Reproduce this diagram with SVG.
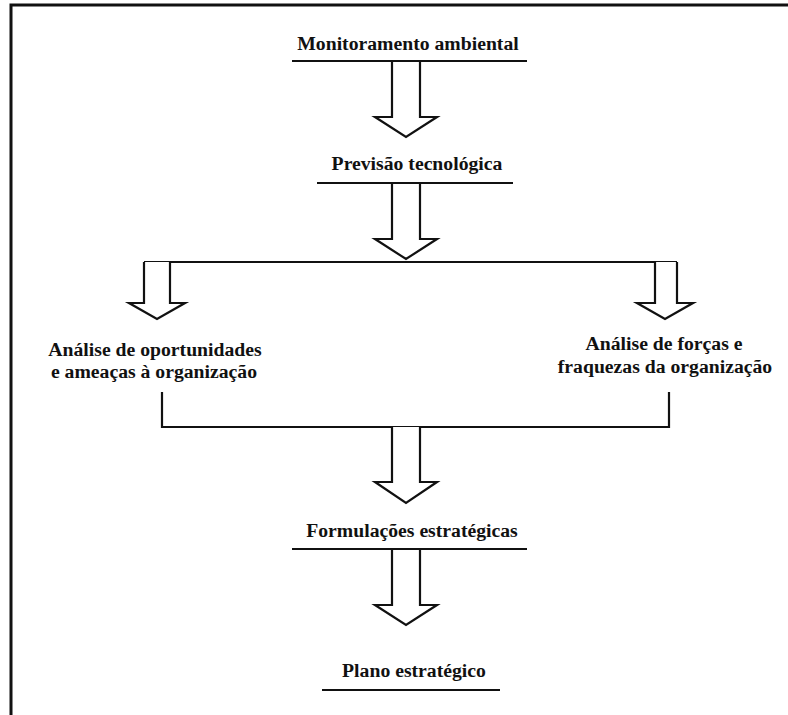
<svg xmlns="http://www.w3.org/2000/svg" width="788" height="715" viewBox="0 0 788 715">
<style>
.t{font-family:'Liberation Serif','DejaVu Serif',serif;font-weight:bold;font-size:19.7px;fill:#111;text-anchor:middle}
.ln{stroke:#111;stroke-width:2.2;fill:none}
.ar{stroke:#111;stroke-width:2.2;fill:#fff;stroke-linejoin:miter}
</style>
<rect width="788" height="715" fill="#fff"/>
<g id="border">
<path d="M11,715 V5 H788" stroke="#111" stroke-width="3" fill="none"/>
</g>
<g id="connectors">
<path class="ln" d="M144,262 H677"/>
<path class="ln" d="M162,392 V427 H669 V392"/>
<path class="ar" d="M392,61 V117 H375 L406,137 L437,117 H420 V61"/>
<path class="ar" d="M392,183 V239 H375 L406,259 L437,239 H420 V183"/>
<path class="ar" d="M144,262 V303 H129 L157,319 L185,303 H170 V262"/>
<path class="ar" d="M655,262 V303 H637 L665,319 L693,303 H677 V262"/>
<path class="ar" d="M392,427 V482 H375 L406,503 L437,482 H420 V427"/>
<path class="ar" d="M392,549 V605 H375 L406,625 L437,605 H420 V549"/>
</g>
<g id="n1">
<text class="t" x="408" y="50">Monitoramento ambiental</text>
<path class="ln" d="M292,61 H527"/>
</g>
<g id="n2">
<text class="t" x="417" y="170">Previsão tecnológica</text>
<path class="ln" d="M317,183 H513"/>
</g>
<g id="n3">
<text class="t" x="155" y="356">Análise de oportunidades</text>
<text class="t" x="154" y="378">e ameaças à organização</text>
</g>
<g id="n4">
<text class="t" x="664" y="350">Análise de forças e</text>
<text class="t" x="665" y="373">fraquezas da organização</text>
</g>
<g id="n5">
<text class="t" x="412" y="537">Formulações estratégicas</text>
<path class="ln" d="M292,549 H527"/>
</g>
<g id="n6">
<text class="t" x="414" y="677">Plano estratégico</text>
<path class="ln" d="M322,690 H500"/>
</g>
</svg>
